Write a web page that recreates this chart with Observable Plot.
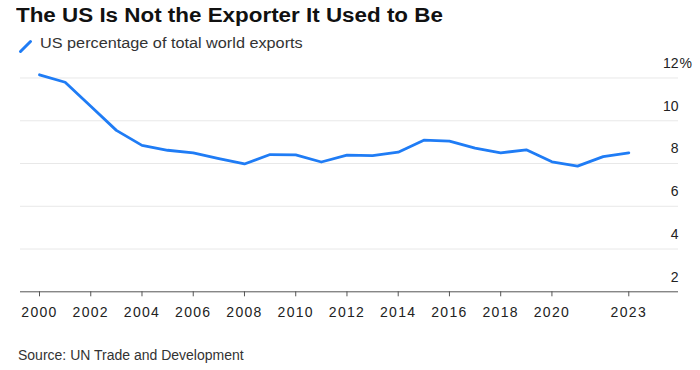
<!DOCTYPE html>
<html>
<head>
<meta charset="utf-8">
<script src="https://cdn.jsdelivr.net/npm/d3@7"></script>
<script src="https://cdn.jsdelivr.net/npm/@observablehq/plot@0.6"></script>
<style>
  html, body { margin: 0; padding: 0; background: #fff; }
  body { width: 700px; height: 370px; position: relative; overflow: hidden; font-family: "Liberation Sans", Arial, Helvetica, sans-serif; }
  #title { position: absolute; left: 16px; top: 5px; font-size: 20px; line-height: 20px; font-weight: bold; color: #111; white-space: nowrap; transform: scaleX(1.12); transform-origin: 0 0; }
  #legend { position: absolute; left: 18px; top: 35px; height: 20px; font-size: 14px; line-height: 14px; color: #333; white-space: nowrap; }
  #legend svg { position: absolute; left: 0; top: 0; }
  #legend span { position: absolute; left: 22px; top: 1px; transform: scaleX(1.16); transform-origin: 0 0; }
  #chart { position: absolute; left: 0; top: 55px; }
  #source { position: absolute; left: 18px; top: 348px; font-size: 14px; line-height: 14px; color: #333; white-space: nowrap; }
</style>
</head>
<body>
<div id="title">The US Is Not the Exporter It Used to Be</div>
<div id="legend"><svg width="16" height="20"><line x1="2.5" y1="16.5" x2="12.5" y2="6.5" stroke="#1f7cf5" stroke-width="3" stroke-linecap="round"/></svg><span>US percentage of total world exports</span></div>
<div id="chart"></div>
<div id="source">Source: UN Trade and Development</div>
<script>
const years = [2000, 2001, 2002, 2003, 2004, 2005, 2006, 2007, 2008, 2009, 2010, 2011,
               2012, 2013, 2014, 2015, 2016, 2017, 2018, 2019, 2020, 2021, 2022, 2023];
const usShare = [12.15, 11.80, 10.68, 9.55, 8.85, 8.62, 8.50, 8.23, 7.98, 8.42, 8.40, 8.07,
                 8.39, 8.37, 8.53, 9.09, 9.05, 8.72, 8.50, 8.64, 8.08, 7.88, 8.32, 8.50];
const yTicks = [2, 4, 6, 8, 10, 12];
const gridValues = [4, 6, 8, 10, 12];
const xTicks = [2000, 2002, 2004, 2006, 2008, 2010, 2012, 2014, 2016, 2018, 2020, 2023];

const rows = years.map((year, i) => ({year, value: usShare[i]}));

const plot = Plot.plot({
  width: 700,
  height: 270,
  marginLeft: 20,
  marginRight: 22,
  marginTop: 0,
  marginBottom: 33.7,
  style: {fontFamily: '"Liberation Sans", Arial, Helvetica, sans-serif', background: "transparent", overflow: "visible"},
  x: {domain: [1999.258, 2024.94]},
  y: {domain: [2, 13.052]},
  marks: [
    Plot.ruleY(gridValues, {stroke: "#e8e8e8", strokeWidth: 1}),
    Plot.ruleY([2], {stroke: "#555", strokeWidth: 1}),
    Plot.axisX({ticks: xTicks, tickFormat: d => String(d), tickSize: 5, tickPadding: 10,
                fontSize: 14, stroke: "#555", fill: "#222", label: null}),
    Plot.axisY({ticks: [], label: null}),
    Plot.text(yTicks, {y: d => d, text: d => String(d), frameAnchor: "right", textAnchor: "end",
                       lineAnchor: "middle", dy: -14.5, fontSize: 14, fill: "#222"}),
    Plot.text([12], {y: d => d, text: () => "%", frameAnchor: "right", textAnchor: "start",
                     lineAnchor: "middle", dy: -14.5, dx: 1, fontSize: 14, fill: "#222"}),
    Plot.line(rows, {x: "year", y: "value", stroke: "#1f7cf5", strokeWidth: 2.8,
                     strokeLinejoin: "round", strokeLinecap: "round"})
  ]
});
document.getElementById("chart").appendChild(plot);
d3.select(plot).selectAll('g[aria-label="x-axis tick label"] text').style("letter-spacing", "1.3px");
</script>
</body>
</html>
